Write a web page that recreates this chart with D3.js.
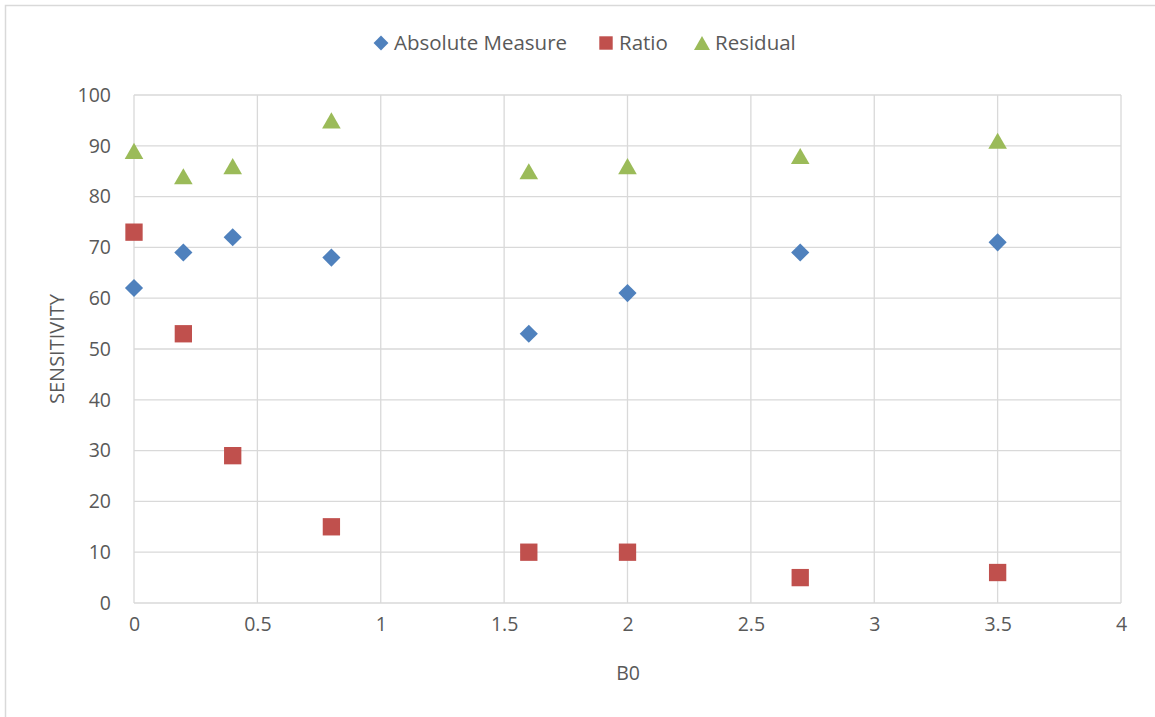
<!DOCTYPE html>
<html>
<head>
<meta charset="utf-8">
<script src="https://cdn.jsdelivr.net/npm/d3@7/dist/d3.min.js"></script>
<style>
  html, body { margin: 0; padding: 0; background: #fff; }
  svg { display: block; }
  text { font-family: "Open Sans", "Noto Sans", sans-serif; fill: #595959; }
</style>
</head>
<body>
<svg id="chart" width="1155" height="717"></svg>
<script>
// B0 values and sensitivity per method
const b0 = [0, 0.2, 0.4, 0.8, 1.6, 2, 2.7, 3.5];
const absoluteMeasure = [62, 69, 72, 68, 53, 61, 69, 71];
const ratio = [73, 53, 29, 15, 10, 10, 5, 6];
const residual = [89, 84, 86, 95, 85, 86, 88, 91];

const xTicks = [0, 0.5, 1, 1.5, 2, 2.5, 3, 3.5, 4];
const yTicks = [0, 10, 20, 30, 40, 50, 60, 70, 80, 90, 100];

const seriesNames = ["Absolute Measure", "Ratio", "Residual"];
const seriesColors = ["#4F81BD", "#C0504D", "#9BBB59"];
// diamond = square turned 45 degrees
const seriesShapes = [d3.symbolSquare, d3.symbolSquare, d3.symbolTriangle];
const seriesRotation = [45, 0, 0];

// vertical shift that centres a d3 triangle on its bounding box instead of its centroid
function symbolOffset(shape, size) {
  if (shape !== d3.symbolTriangle) return 0;
  const side = Math.sqrt(size * 4 / Math.sqrt(3));
  return side * Math.sqrt(3) / 2 / 6;
}

const svg = d3.select("#chart");
const W = 1155, H = 717;
const plot = { left: 134, right: 1121, top: 95, bottom: 603 };

// chart frame (only top and left edges fall inside the view)
svg.append("rect")
  .attr("x", 5.5).attr("y", 5.5)
  .attr("width", W + 20).attr("height", H + 20)
  .attr("fill", "#fff").attr("stroke", "#d9d9d9").attr("stroke-width", 1.5);

const x = d3.scaleLinear().domain([0, 4]).range([plot.left, plot.right]);
const y = d3.scaleLinear().domain([0, 100]).range([plot.bottom, plot.top]);

// gridlines
const grid = svg.append("g");
grid.selectAll("line.v").data(xTicks).join("line")
  .attr("x1", d => x(d)).attr("x2", d => x(d))
  .attr("y1", plot.top).attr("y2", plot.bottom)
  .attr("stroke", "#d9d9d9").attr("stroke-width", 1.3);
grid.selectAll("line.h").data(yTicks).join("line")
  .attr("x1", plot.left).attr("x2", plot.right)
  .attr("y1", d => y(d)).attr("y2", d => y(d))
  .attr("stroke", "#d9d9d9").attr("stroke-width", 1.3);

// axes: labels only
const xAxis = d3.axisBottom(x).tickValues(xTicks).tickSize(0).tickPadding(14).tickFormat(d3.format("~g"));
const yAxis = d3.axisLeft(y).tickValues(yTicks).tickSize(0).tickPadding(23).tickFormat(d3.format("~g"));

const gx = svg.append("g").attr("transform", `translate(0,${plot.bottom})`).call(xAxis);
const gy = svg.append("g").attr("transform", `translate(${plot.left},0)`).call(yAxis);
[gx, gy].forEach(g => {
  g.select(".domain").remove();
  g.selectAll("text").attr("font-size", 19.5).attr("fill", "#595959")
    .style("font-family", '"Open Sans", "Noto Sans", sans-serif');
});

// axis titles
svg.append("text")
  .attr("x", 628).attr("y", 680)
  .attr("text-anchor", "middle").attr("font-size", 19.5)
  .text("B0");
svg.append("text")
  .attr("transform", "translate(64,349) rotate(-90)")
  .attr("text-anchor", "middle").attr("font-size", 20)
  .text("SENSITIVITY");

// markers
const seriesValues = [absoluteMeasure, ratio, residual];
const sizes = [165, 300, 150];
seriesValues.forEach((vals, i) => {
  const sym = d3.symbol().type(seriesShapes[i]).size(sizes[i]);
  const dy = symbolOffset(seriesShapes[i], sizes[i]);
  svg.append("g").selectAll("path").data(vals).join("path")
    .attr("transform", (d, j) => `translate(${x(b0[j])},${y(d) + dy}) rotate(${seriesRotation[i]})`)
    .attr("d", sym)
    .attr("fill", seriesColors[i]);
});

// legend
const legendItems = [
  { x: 381, textX: 394 },
  { x: 606, textX: 619 },
  { x: 702, textX: 715 }
];
const legendSizes = [110, 180, 110];
const legend = svg.append("g");
seriesNames.forEach((name, i) => {
  const sym = d3.symbol().type(seriesShapes[i]).size(legendSizes[i]);
  const dy = symbolOffset(seriesShapes[i], legendSizes[i]);
  legend.append("path")
    .attr("transform", `translate(${legendItems[i].x},${43 + dy}) rotate(${seriesRotation[i]})`)
    .attr("d", sym)
    .attr("fill", seriesColors[i]);
  legend.append("text")
    .attr("x", legendItems[i].textX).attr("y", 50)
    .attr("font-size", 20.5)
    .text(name);
});
</script>
</body>
</html>
